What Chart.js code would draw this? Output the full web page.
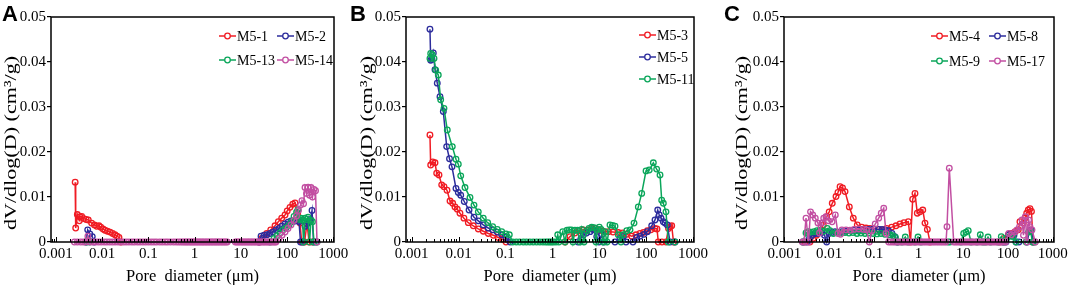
<!DOCTYPE html>
<html>
<head>
<meta charset="utf-8">
<title>Pore size distribution</title>
<script src="https://cdn.jsdelivr.net/npm/chart.js@4.4.1/dist/chart.umd.min.js"></script>
<style>
  body { margin: 0; background: #fff; }
  #wrap { position: relative; width: 1072px; height: 289px; overflow: hidden; }
  canvas { position: absolute; top: 0; }
</style>
</head>
<body>
<div id="wrap">
  <canvas id="chartA" width="349" height="289" style="left:0"></canvas>
  <canvas id="chartB" width="363" height="289" style="left:349px"></canvas>
  <canvas id="chartC" width="360" height="289" style="left:712px"></canvas>
</div>
<script>
// 1. DADES (diàmetre de porus en µm, dV/dlog(D) en cm3/g)
const xDecades = [0.001, 0.01, 0.1, 1, 10, 100, 1000];
const minorSteps = [2, 3, 4, 5, 6, 7, 8, 9];
const yTicks = [0, 0.01, 0.02, 0.03, 0.04, 0.05];

// Panell A
const m51D = [0.0026, 0.00267, 0.0029, 0.0032, 0.0033, 0.0036, 0.004, 0.0045, 0.005, 0.0059, 0.0068, 0.0076, 0.0085, 0.0093, 0.0104, 0.0115, 0.013, 0.0148, 0.0168, 0.0189, 0.021, 0.0231, 0.0255,
  25, 28.3, 36.4, 44.4, 55, 64.9, 76.7, 90.6, 101, 116, 133, 149, 170, 191, 208, 240, 271, 300, 350];
const m51V = [0.0133, 0.0031, 0.0061, 0.0047, 0.0056, 0.0057, 0.0052, 0.0050, 0.0049, 0.0042, 0.0038, 0.0035, 0.0036, 0.0033, 0.0029, 0.0026, 0.0024, 0.0022, 0.0019, 0.0016, 0.0013, 0.0010, 0,
  0, 0.0008, 0.0019, 0.0027, 0.0036, 0.0045, 0.0053, 0.006, 0.0069, 0.0077, 0.0084, 0.0087, 0.0064, 0.0042, 0, 0, 0.0042, 0, 0];

const m52D = [0.0045, 0.00486, 0.0054, 0.0061, 0.0067,
  24.8, 27.4, 31.8, 36.9, 42.9, 49.8, 57.8, 67.1, 78, 90.6, 105, 122, 142, 164, 182, 196, 222, 245, 271, 299, 323, 348, 375, 425];
const m52V = [0, 0.0027, 0.0018, 0.0012, 0,
  0, 0.0013, 0.0015, 0.0016, 0.0019, 0.0022, 0.0027, 0.003, 0.0035, 0.004, 0.0044, 0.0047, 0.0046, 0.0048, 0.0045, 0, 0, 0.0035, 0.004, 0.0045, 0.005, 0.007, 0, 0];

const m513D = [0.0045, 0.0049, 0.0053,
  42.9, 52.4, 60.8, 70.5, 81.9, 95, 110, 125, 142, 161, 173, 187, 201, 216, 228, 245, 264, 285, 307, 331, 356, 384, 446];
const m513V = [0, 0.0004, 0,
  0, 0.0008, 0.0014, 0.002, 0.0027, 0.0031, 0.0037, 0.0045, 0.0057, 0.0066, 0.0072, 0.005, 0.0053, 0.0049, 0, 0.0053, 0.005, 0.0055, 0, 0.0048, 0.0045, 0, 0];

const m514D = [0.0025, 0.0029, 0.0034, 0.0039, 0.0044, 0.0049, 0.0055, 0.0063, 0.0072, 0.0083, 0.0095,
  0.011, 0.0126, 0.0145, 0.0166, 0.019, 0.022, 0.025, 0.029, 0.033, 0.038, 0.044, 0.05, 0.058, 0.066, 0.076, 0.087,
  0.1, 0.115, 0.132, 0.15, 0.175, 0.2, 0.23, 0.26, 0.3, 0.35, 0.4, 0.45, 0.5, 0.55, 0.6, 0.65, 0.7, 0.76, 0.82, 0.88, 0.95,
  1.02, 1.1, 1.18, 1.27, 1.37, 1.47, 1.58, 1.7, 1.83, 1.97, 2.12, 2.28, 2.45, 2.64, 2.84, 3.05, 3.28, 3.53, 3.8, 4.1, 4.4, 4.75, 5.1,
  7.6, 8.2, 8.8, 9.5, 10.2, 11, 11.8, 12.7, 13.7, 14.7, 15.8, 17, 18.3, 19.7, 21.2, 22.8, 24.5, 26.4, 28.4, 30.5, 32.8, 35.3, 38, 40.9, 44, 47.3, 50.9, 54.8,
  57.8, 67.1, 78, 90.6, 105, 122, 142, 161, 177, 196, 211, 228, 245, 264, 285, 307, 331, 356, 384, 414, 446];
const m514V = [0, 0, 0, 0, 0, 0.0013, 0, 0, 0, 0, 0,
  0, 0, 0, 0, 0, 0, 0, 0, 0, 0, 0, 0, 0, 0, 0, 0,
  0, 0, 0, 0, 0, 0, 0, 0, 0, 0, 0, 0, 0, 0, 0, 0, 0, 0, 0, 0, 0,
  0, 0, 0, 0, 0, 0, 0, 0, 0, 0, 0, 0, 0, 0, 0, 0, 0, 0, 0, 0, 0, 0, 0,
  0, 0, 0, 0, 0, 0, 0, 0, 0, 0, 0, 0, 0, 0, 0, 0, 0, 0, 0, 0, 0, 0, 0, 0, 0, 0, 0, 0,
  0, 0.0008, 0.0015, 0.0022, 0.003, 0.0038, 0.0048, 0.0058, 0.007, 0.0082, 0.0092, 0.0085, 0.0121, 0.0108, 0.0122, 0.0104, 0.0121, 0.01, 0.0117, 0.0114, 0];

// Panell B
const m53D = [0.00245, 0.00254, 0.00281, 0.00314, 0.00341, 0.00382, 0.00436, 0.00488, 0.00566, 0.00656, 0.00749, 0.00838, 0.00938, 0.0107, 0.013, 0.0161, 0.0206, 0.0263, 0.0336, 0.043, 0.055, 0.0702, 0.0871, 0.1025,
  1.86, 2.37, 3.03, 3.69, 4.56, 5.47, 6.89, 8.3, 9.86, 12, 15.6, 19.6, 25.4, 31.3, 38.4, 49.1, 60.7, 73.8, 87.5, 106, 126, 154, 170, 181, 217, 264, 299, 322, 350, 382];
const m53V = [0.0238, 0.0171, 0.0178, 0.0176, 0.0153, 0.0149, 0.0127, 0.0123, 0.0115, 0.0091, 0.0086, 0.0078, 0.0073, 0.0064, 0.0053, 0.0043, 0.0036, 0.0029, 0.0024, 0.0019, 0.0015, 0.001, 0.0006, 0,
  0, 0.0012, 0.002, 0.0025, 0.0027, 0.0026, 0.003, 0.003, 0.0026, 0.0024, 0.0023, 0.0022, 0.0021, 0.002, 0.0017, 0.0013, 0.0016, 0.0019, 0.0021, 0.0025, 0.0027, 0.003, 0.0029, 0, 0, 0, 0.003, 0.0034, 0.0036, 0];

const m55D = [0.00245, 0.00254, 0.00271, 0.00289, 0.00314, 0.00351, 0.00401, 0.00472, 0.00557, 0.0064, 0.00723, 0.0088, 0.00986, 0.0111, 0.0132, 0.0167, 0.0213, 0.0263, 0.0336, 0.043, 0.0533, 0.0668, 0.083, 0.1025, 0.125,
  3.52, 4.07, 4.56, 5.33, 6.34, 7.45, 8.81, 9.86, 11.2, 12.6, 21.6, 27.6, 32.5, 37.1, 52.2, 62.7, 73.8, 89.8, 106, 131, 154, 176, 190, 207, 232, 252, 282, 322, 411];
const m55V = [0.0473, 0.0404, 0.0406, 0.042, 0.0383, 0.0353, 0.0323, 0.029, 0.0212, 0.0185, 0.0167, 0.0119, 0.011, 0.0104, 0.009, 0.0071, 0.0055, 0.0047, 0.0038, 0.0031, 0.0027, 0.0022, 0.0016, 0.001, 0,
  0, 0.0008, 0.0016, 0.002, 0.0023, 0.0027, 0.0012, 0, 0.0016, 0, 0, 0.0008, 0.0012, 0, 0, 0.001, 0.0013, 0.0017, 0.0023, 0.0036, 0.0049, 0.0071, 0.006, 0.0053, 0.0045, 0.0042, 0.0038, 0, 0];

const m511D = [0.00245, 0.00254, 0.00275, 0.00299, 0.00325, 0.00369, 0.00415, 0.00488, 0.00574, 0.00734, 0.0088, 0.00986, 0.0111, 0.0137, 0.0175, 0.0213, 0.0263, 0.0336, 0.0417, 0.0533, 0.0668, 0.083, 0.1025, 0.1206, 0.1426,
  0.17, 0.2, 0.24, 0.28, 0.33, 0.39, 0.46, 0.54, 0.63, 0.72, 0.8, 0.88, 0.96, 1.05, 1.19,
  1.3, 1.38, 1.66, 1.86, 2.05, 2.29, 2.55, 2.75, 3.03, 3.43, 3.88, 4.22, 4.72, 5.47, 6.03, 6.89, 7.71, 8.51, 9.16, 10,
  10.9, 12, 13.2, 14.6, 16.9, 19.1, 21.6, 25.4, 29, 32.5, 38.4, 45.2, 55, 67.9, 80.2, 99.1, 116, 142, 167, 197, 214, 232, 264, 296, 411];
const m511V = [0.0408, 0.0419, 0.0416, 0.0408, 0.0382, 0.0371, 0.0316, 0.0297, 0.0249, 0.0212, 0.0184, 0.0173, 0.0147, 0.0121, 0.0099, 0.0082, 0.0067, 0.0053, 0.0043, 0.0034, 0.0028, 0.0023, 0.0018, 0.0016, 0,
  0, 0, 0, 0, 0, 0, 0, 0, 0, 0, 0, 0, 0, 0, 0,
  0.0016, 0, 0.0023, 0, 0.0026, 0.0027, 0.0027, 0, 0.0026, 0.0026, 0, 0.0028, 0, 0.0025, 0.003, 0.0033, 0.0032, 0, 0.0028, 0.0033,
  0.0028, 0, 0.0023, 0, 0.0038, 0.0037, 0.0035, 0.0016, 0, 0.0016, 0.0025, 0.0027, 0.0042, 0.0078, 0.0108, 0.0158, 0.016, 0.0176, 0.0162, 0.0149, 0.0093, 0.0086, 0.0067, 0, 0];

// Panell C
const m54D = [0.00288, 0.00372, 0.0044, 0.0052, 0.006, 0.00738, 0.00879, 0.01, 0.0117, 0.0142, 0.0157, 0.0175, 0.0199, 0.0226, 0.0282, 0.0346, 0.0425, 0.0533, 0.0666, 0.0818,
  0.1005, 0.127, 0.162, 0.193, 0.25, 0.312, 0.384, 0.471, 0.589, 0.659, 0.738, 0.83, 0.935, 1.07, 1.24, 1.39, 1.57, 1.8,
  66.2, 81.5, 102, 121, 144, 170, 185, 220, 240, 262, 284, 310, 335, 363];
const m54V = [0, 0, 0.0008, 0.0015, 0.0023, 0.0038, 0.0056, 0.0067, 0.0086, 0.0101, 0.011, 0.0123, 0.012, 0.0112, 0.0078, 0.0053, 0.0038, 0.0033, 0.0031, 0.003,
  0.0029, 0.0028, 0.0027, 0.003, 0.0033, 0.0036, 0.004, 0.0043, 0.0045, 0, 0.0095, 0.0108, 0.0064, 0.0067, 0.0071, 0.0042, 0.0028, 0,
  0, 0.0008, 0.0016, 0.0019, 0.0023, 0.0027, 0.0045, 0.0042, 0.0053, 0.0064, 0.0071, 0.0074, 0.0068, 0];

const m58D = [0.00259, 0.00318, 0.00362, 0.00412, 0.00481, 0.00561, 0.00679, 0.00785, 0.00879, 0.0099, 0.0116, 0.0135, 0.0157, 0.0193, 0.0238, 0.0292, 0.0359, 0.0457, 0.0585, 0.0765,
  0.098, 0.128, 0.152, 0.18, 0.212, 0.254, 0.292, 0.329,
  77.3, 90.2, 104, 120, 136, 151, 176, 266, 303, 335, 363];
const m58V = [0, 0, 0.0008, 0.0015, 0.0019, 0.0019, 0.0021, 0.0015, 0, 0.0019, 0.0021, 0.0023, 0.0022, 0.0023, 0.0024, 0.0025, 0.0026, 0.0027, 0.0028, 0.0028,
  0.0029, 0.0028, 0.0028, 0.0027, 0.0025, 0.0019, 0.0012, 0,
  0, 0, 0.0016, 0.0017, 0.0015, 0, 0, 0, 0.0025, 0.0026, 0];

const m59D = [0.00259, 0.00303, 0.0034, 0.00391, 0.00457, 0.00533, 0.00622, 0.00745, 0.00906, 0.0104, 0.0124, 0.0149, 0.0184, 0.0226, 0.0277, 0.034, 0.0419, 0.0514, 0.0632, 0.0777,
  0.0955, 0.117, 0.144, 0.177, 0.229, 0.267, 0.304, 0.346, 0.425, 0.504, 0.579, 0.83, 0.97, 1.13, 4.55, 5.04, 8.89, 10.2, 11.5, 12.9,
  14.9, 20.2, 24, 27.6, 31.4, 35.7, 40.6, 59.8, 70.8, 81.5, 95, 111, 129, 151, 253, 288, 319, 353, 402];
const m59V = [0, 0.002, 0.0023, 0.0022, 0.0023, 0.0025, 0.0026, 0.0024, 0.003, 0.0025, 0.0019, 0.0021, 0.002, 0.0021, 0.002, 0.0021, 0.0019, 0.002, 0.0019, 0.002,
  0.0019, 0.0018, 0.0019, 0.0017, 0.0016, 0.0014, 0.001, 0, 0, 0.0011, 0, 0, 0.0011, 0, 0, 0, 0, 0.0019, 0.0022, 0.0025,
  0, 0, 0.0016, 0, 0, 0.0011, 0, 0, 0.0012, 0, 0.0009, 0.0013, 0.0012, 0, 0, 0.0022, 0.0024, 0, 0];

const m517D = [0.0025, 0.00273, 0.00303, 0.00344, 0.00382, 0.00428, 0.00489, 0.00561, 0.00607, 0.0069, 0.00754, 0.00848, 0.00964, 0.0116, 0.0137, 0.0157, 0.0179, 0.0193, 0.0238, 0.0292,
  0.0359, 0.0457, 0.0591, 0.0683, 0.0789, 0.0906, 0.107, 0.128, 0.146, 0.166, 0.187, 0.214,
  0.24, 0.27, 0.3, 0.34, 0.38, 0.42, 0.47, 0.52, 0.58, 0.64, 0.71, 0.78, 0.86, 0.95, 1.05, 1.15, 1.27, 1.4, 1.55, 1.7, 1.9, 2.1, 2.3, 2.55, 2.8, 3.1, 3.4, 3.75, 4.1,
  4.32, 4.86, 6.1,
  6.7, 7.4, 8.2, 9, 10, 11, 12.1, 13.4, 14.8, 16.3, 18, 20, 22, 24.3, 26.8, 29.6, 32.7, 36, 40, 44, 48.5, 53.5, 59, 65, 72, 80, 88,
  104, 120, 140, 159, 181, 206, 222, 244, 266, 290, 310, 344, 408];
const m517V = [0, 0, 0.0053, 0, 0.0067, 0.006, 0.0053, 0.0042, 0.002, 0.0042, 0.0053, 0.0056, 0.0047, 0.0045, 0.006, 0.0019, 0.0017, 0.0027, 0.0027, 0.0026,
  0.0028, 0.0029, 0.0028, 0.0027, 0, 0.0025, 0.004, 0.0053, 0.0064, 0.0075, 0.0019, 0,
  0, 0, 0, 0, 0, 0, 0, 0, 0, 0, 0, 0, 0, 0, 0, 0, 0, 0, 0, 0, 0, 0, 0, 0, 0, 0, 0, 0, 0,
  0.0034, 0.0164, 0,
  0, 0, 0, 0, 0, 0, 0, 0, 0, 0, 0, 0, 0, 0, 0, 0, 0, 0, 0, 0, 0, 0, 0, 0, 0, 0, 0,
  0.0019, 0.0016, 0.0022, 0.0027, 0.0034, 0.0049, 0.0015, 0.0056, 0, 0.0049, 0.0034, 0.0027, 0];

const RED = '#f01c24', BLUE = '#2c2c9c', GREEN = '#0aa65a', PINK = '#c24fa2';
const yTitle = 'dV/dlog(D) (cm³/g)';
const xTitle = 'Pore  diameter (μm)';
const SERIF = '"Liberation Serif", "Times New Roman", serif';

// 2. DECORACIÓ: marc, ticks interiors, títol Y, llegenda i lletra del panell
const panelDecor = {
  id: 'panelDecor',
  afterDraw(chart, args, o) {
    const { ctx, chartArea: a, scales: { x } } = chart;
    ctx.save();
    ctx.strokeStyle = '#000';
    ctx.lineWidth = 1.5;
    ctx.strokeRect(a.left, a.top, a.right - a.left, a.bottom - a.top);

    // ticks de l'eix X cap a dins
    ctx.lineWidth = 1;
    ctx.beginPath();
    const tick = (v, len) => {
      if (v < x.min || v > x.max) return;
      const px = Math.round(x.getPixelForValue(v)) + 0.5;
      ctx.moveTo(px, a.bottom);
      ctx.lineTo(px, a.bottom - len);
    };
    minorSteps.forEach(m => tick(xDecades[0] * m / 10, 3));
    xDecades.forEach(dec => {
      tick(dec, 5);
      minorSteps.forEach(m => tick(dec * m, 3));
    });
    ctx.stroke();

    // títol Y (allargat com a l'original)
    ctx.save();
    ctx.translate(o.yTitleX, 143);
    ctx.rotate(-Math.PI / 2);
    ctx.scale(o.stretch, 1);
    ctx.font = '17px ' + SERIF;
    ctx.fillStyle = '#000';
    ctx.textAlign = 'center';
    ctx.textBaseline = 'middle';
    ctx.fillText(yTitle, 0, 0);
    ctx.restore();

    // llegenda
    ctx.font = '14px ' + SERIF;
    ctx.textAlign = 'left';
    ctx.textBaseline = 'middle';
    chart.data.datasets.forEach((ds, i) => {
      const [lx, ly] = o.legend[i];
      ctx.strokeStyle = ds.borderColor;
      ctx.lineWidth = 1.5;
      ctx.beginPath();
      ctx.moveTo(lx, ly);
      ctx.lineTo(lx + 17, ly);
      ctx.stroke();
      ctx.beginPath();
      ctx.arc(lx + 8.5, ly, 2.8, 0, Math.PI * 2);
      ctx.fillStyle = '#fff';
      ctx.fill();
      ctx.lineWidth = 1.3;
      ctx.stroke();
      ctx.fillStyle = '#000';
      ctx.fillText(ds.label, lx + 18, ly + 1);
    });

    // lletra del panell
    ctx.font = 'bold 22px "Liberation Sans", Arial, sans-serif';
    ctx.fillStyle = '#000';
    ctx.textBaseline = 'alphabetic';
    ctx.fillText(o.letter, o.letterX, 21);
    ctx.restore();
  }
};

// 3. CONSTRUCCIÓ DE CADA PANELL
function crearPanell(canvasId, series, cfg) {
  const n = series.length;
  const datasets = series.map((s, i) => ({
    label: s.label,
    data: s.d.map((d, k) => ({ x: d, y: s.v[k] })),
    borderColor: s.color,
    backgroundColor: 'rgba(255,255,255,0)',
    borderWidth: 1.5,
    pointRadius: 2.8,
    pointBorderWidth: 1.3,
    pointBackgroundColor: 'rgba(255,255,255,0)',
    pointBorderColor: s.color,
    tension: 0,
    clip: 8,
    order: n - 1 - i
  }));

  return new Chart(document.getElementById(canvasId), {
    type: 'line',
    data: { datasets },
    plugins: [panelDecor],
    options: {
      responsive: false,
      animation: false,
      devicePixelRatio: 1,
      layout: { padding: { left: 0, right: cfg.padRight, top: 17, bottom: 0 } },
      plugins: {
        legend: { display: false },
        tooltip: { enabled: false },
        panelDecor: cfg
      },
      scales: {
        x: {
          type: 'logarithmic',
          min: cfg.xMin,
          max: cfg.xMax,
          afterBuildTicks: s => { s.ticks = xDecades.map(v => ({ value: v })); },
          afterFit: s => { s.height = 47; s.paddingLeft = 0; s.paddingRight = 0; },
          grid: { display: false, drawTicks: false },
          border: { display: false },
          ticks: {
            autoSkip: false, maxRotation: 0, padding: 3, color: '#000',
            font: { family: SERIF, size: 15 },
            callback: v => String(v)
          },
          title: {
            display: true, text: xTitle, color: '#000',
            font: { family: SERIF, size: 16.5 },
            padding: { top: 0, bottom: 2 }
          }
        },
        y: {
          min: 0,
          max: 0.05,
          afterBuildTicks: s => { s.ticks = yTicks.map(v => ({ value: v })); },
          afterFit: s => { s.width = cfg.chartLeft; },
          grid: { drawOnChartArea: false, drawTicks: true, tickLength: 4, color: '#000', lineWidth: 1.2 },
          border: { display: false },
          ticks: {
            padding: 1, color: '#000',
            font: { family: SERIF, size: 15 },
            callback: v => v === 0 ? '0' : v.toFixed(2)
          }
        }
      }
    }
  });
}

crearPanell('chartA', [
  { label: 'M5-1', d: m51D, v: m51V, color: RED },
  { label: 'M5-2', d: m52D, v: m52V, color: BLUE },
  { label: 'M5-13', d: m513D, v: m513V, color: GREEN },
  { label: 'M5-14', d: m514D, v: m514V, color: PINK }
], { chartLeft: 51, padRight: 15, xMin: 0.00078, xMax: 1040, yTitleX: 12, stretch: 1.3,
     legend: [[219, 36], [277, 36], [219, 60], [277, 60]], letter: 'A', letterX: 2 });

crearPanell('chartB', [
  { label: 'M5-3', d: m53D, v: m53V, color: RED },
  { label: 'M5-5', d: m55D, v: m55V, color: BLUE },
  { label: 'M5-11', d: m511D, v: m511V, color: GREEN }
], { chartLeft: 57, padRight: 18, xMin: 0.000756, xMax: 1045, yTitleX: 19, stretch: 1.3,
     legend: [[290, 35], [290, 57], [290, 79]], letter: 'B', letterX: 1 });

crearPanell('chartC', [
  { label: 'M5-4', d: m54D, v: m54V, color: RED },
  { label: 'M5-8', d: m58D, v: m58V, color: BLUE },
  { label: 'M5-9', d: m59D, v: m59V, color: GREEN },
  { label: 'M5-17', d: m517D, v: m517V, color: PINK }
], { chartLeft: 72, padRight: 18, xMin: 0.000975, xMax: 1069, yTitleX: 31, stretch: 1.3,
     legend: [[219, 36], [277, 36], [219, 61], [277, 61]], letter: 'C', letterX: 12 });
</script>
</body>
</html>
